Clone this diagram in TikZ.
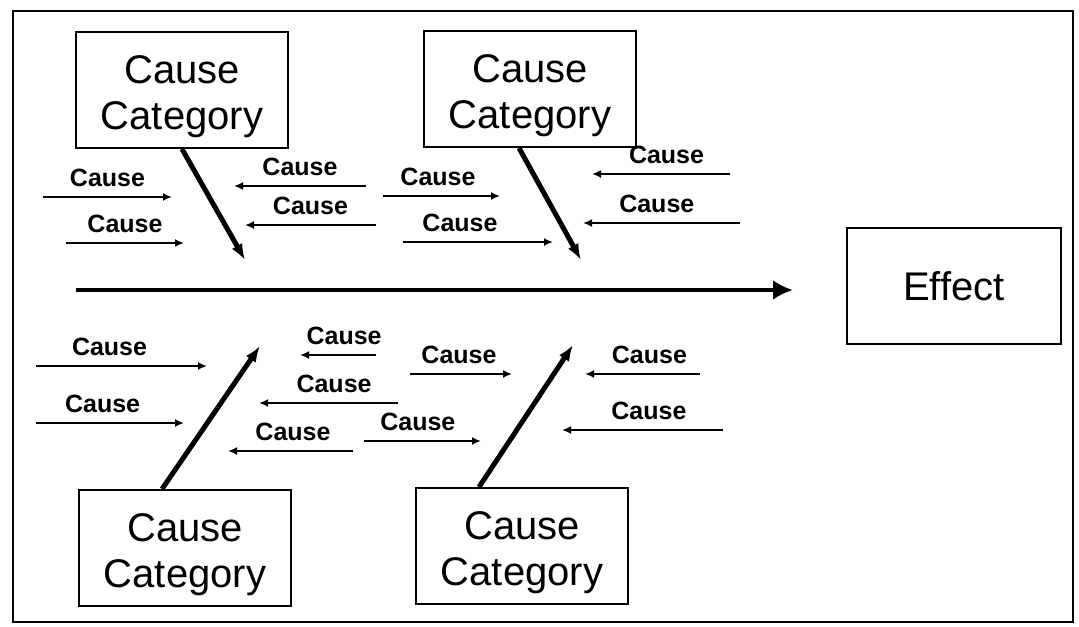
\documentclass[tikz,border=0pt]{standalone}
\usepackage{fontspec}
\setmainfont{Liberation Sans}
\usetikzlibrary{positioning, arrows.meta, calc}

\newcommand{\catname}{\rule{0pt}{21pt}Cause\\Category}

\begin{document}
\begin{tikzpicture}[
    x=0.5pt, y=-0.5pt,
    category/.style={rectangle, draw, line width=1pt, minimum width=106pt, minimum height=58pt, align=center, font=\fontsize{20}{23}\selectfont},
    effect/.style={rectangle, draw, line width=1pt, minimum width=107pt, minimum height=58pt, font=\fontsize{20}{23}\selectfont},
    bone/.style={line width=2.5pt, -{Latex[length=8pt, width=6pt]}},
    spine/.style={line width=2pt, -{Latex[length=10pt, width=10pt]}},
    cause/.style={line width=0.9pt, -{Latex[length=4.5pt, width=4pt]}},
    lbl/.style={above, inner sep=4.5pt, font=\bfseries\fontsize{12.5}{14}\selectfont}
]
    \useasboundingbox (0,0) rectangle (1079,626);
    \draw[line width=1pt] (13,11) rectangle (1073,622);

    % Categories
    \node[category] (cat1) at (182,90) {\catname};
    \node[category] (cat2) at (530,89) {\catname};
    \node[category] (cat3) at (185,548) {\catname};
    \node[category] (cat4) at (522,546) {\catname};
    \node[effect] (eff) at (954,286) {Effect};

    % Spine
    \coordinate (tail) at (76,290);
    \coordinate (head) at (793,290);
    \draw[spine] (tail) -- (head);

    % Bones
    \coordinate (b1) at (245,260);
    \coordinate (b2) at (581,260);
    \coordinate (b3) at (260,346);
    \coordinate (b4) at (573,345);
    \draw[bone] (cat1.south) -- (b1);
    \draw[bone] ($(cat2.south)+(-11,0)$) -- (b2);
    \draw[bone] ($(cat3.north)+(-23,0)$) -- (b3);
    \draw[bone] ($(cat4.north)+(-43,0)$) -- (b4);

    % Causes, top left
    \coordinate (c1a) at (43,197);  \coordinate (c1b) at (172,197);
    \coordinate (c2a) at (66,243);  \coordinate (c2b) at (184,243);
    \coordinate (c3a) at (366,186); \coordinate (c3b) at (234,186);
    \coordinate (c4a) at (376,225); \coordinate (c4b) at (245,225);
    \draw[cause] (c1a) --node[lbl] (t1) {Cause} (c1b);
    \draw[cause] (c2a) --node[lbl] (t2) {Cause} (c2b);
    \draw[cause] (c3a) --node[lbl] (t3) {Cause} (c3b);
    \draw[cause] (c4a) --node[lbl] (t4) {Cause} (c4b);

    % Causes, top middle
    \coordinate (c5a) at (383,196); \coordinate (c5b) at (500,196);
    \coordinate (c6a) at (403,242); \coordinate (c6b) at (553,242);
    \coordinate (c7a) at (730,174); \coordinate (c7b) at (592,174);
    \coordinate (c8a) at (740,223); \coordinate (c8b) at (583,223);
    \draw[cause] (c5a) --node[lbl, pos=0.47] (t5) {Cause} (c5b);
    \draw[cause] (c6a) --node[lbl, pos=0.38] (t6) {Cause} (c6b);
    \draw[cause] (c7a) --node[lbl, pos=0.46] (t7) {Cause} (c7b);
    \draw[cause] (c8a) --node[lbl, pos=0.53] (t8) {Cause} (c8b);

    % Causes, bottom left
    \coordinate (c9a) at (36,366);   \coordinate (c9b) at (207,366);
    \coordinate (c10a) at (36,423);  \coordinate (c10b) at (184,423);
    \coordinate (c11a) at (376,355); \coordinate (c11b) at (300,355);
    \coordinate (c12a) at (398,403); \coordinate (c12b) at (259,403);
    \coordinate (c13a) at (353,451); \coordinate (c13b) at (228,451);
    \draw[cause] (c9a) --node[lbl, pos=0.43] (t9) {Cause} (c9b);
    \draw[cause] (c10a) --node[lbl, pos=0.45] (t10) {Cause} (c10b);
    \draw[cause] (c11a) --node[lbl, pos=0.42] (t11) {Cause} (c11b);
    \draw[cause] (c12a) --node[lbl, pos=0.46] (t12) {Cause} (c12b);
    \draw[cause] (c13a) --node[lbl, pos=0.48] (t13) {Cause} (c13b);

    % Causes, bottom middle
    \coordinate (c14a) at (410,374); \coordinate (c14b) at (512,374);
    \coordinate (c15a) at (364,441); \coordinate (c15b) at (481,441);
    \coordinate (c16a) at (700,374); \coordinate (c16b) at (585,374);
    \coordinate (c17a) at (723,430); \coordinate (c17b) at (562,430);
    \draw[cause] (c14a) --node[lbl, pos=0.48] (t14) {Cause} (c14b);
    \draw[cause] (c15a) --node[lbl, pos=0.46] (t15) {Cause} (c15b);
    \draw[cause] (c16a) --node[lbl, pos=0.44] (t16) {Cause} (c16b);
    \draw[cause] (c17a) --node[lbl, pos=0.46] (t17) {Cause} (c17b);
\end{tikzpicture}
\end{document}
